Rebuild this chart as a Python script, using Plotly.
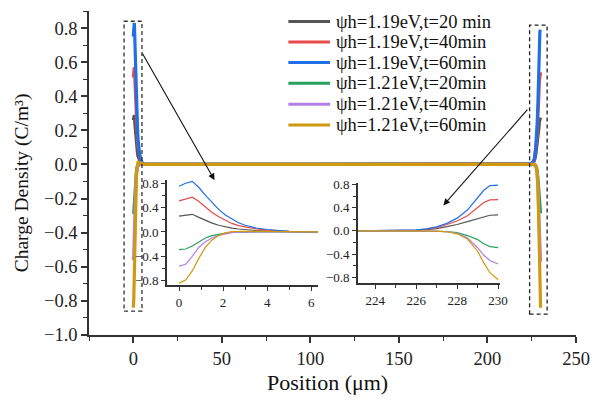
import plotly.graph_objects as go

# ---------------- data ----------------
names = ["ψh=1.19eV,t=20 min", "ψh=1.19eV,t=40min", "ψh=1.19eV,t=60min",
         "ψh=1.21eV,t=20min", "ψh=1.21eV,t=40min", "ψh=1.21eV,t=60min"]
colors = ["#555555", "#e84a4a", "#1f6fe8", "#2aa060", "#b27fe8", "#d09a10"]

# near the left electrode (µm)
x_left = [0, 0.3, 0.6, 0.9, 1.2, 1.5, 1.8, 2.1, 2.4, 2.7, 3.0, 3.5, 4.0, 4.5, 5.0, 5.5, 6.3]
y_left_119_20 = [0.26, 0.28, 0.29, 0.24, 0.19, 0.145, 0.11, 0.085, 0.064, 0.048, 0.037, 0.024, 0.015, 0.008, 0.004, 0.002, 0.0]
y_left_119_40 = [0.51, 0.545, 0.57, 0.50, 0.41, 0.32, 0.25, 0.19, 0.14, 0.105, 0.08, 0.05, 0.03, 0.016, 0.008, 0.004, 0.001]
y_left_119_60 = [0.75, 0.80, 0.83, 0.73, 0.60, 0.48, 0.37, 0.28, 0.21, 0.15, 0.11, 0.065, 0.04, 0.022, 0.01, 0.005, 0.002]
y_left_121_20 = [-0.29, -0.28, -0.23, -0.16, -0.10, -0.06, -0.035, -0.018, -0.009, -0.005, -0.003, -0.001, 0.0, 0.0, 0.0, 0.0, 0.0]
y_left_121_40 = [-0.56, -0.53, -0.40, -0.25, -0.16, -0.10, -0.055, -0.028, -0.012, -0.004, 0.0, 0.002, 0.002, 0.001, 0.0, 0.0, 0.0]
y_left_121_60 = [-0.84, -0.79, -0.64, -0.43, -0.25, -0.13, -0.06, -0.016, 0.005, 0.012, 0.012, 0.01, 0.007, 0.004, 0.002, 0.001, 0.0]

# near the right electrode (µm)
x_right = [223.15, 224, 225, 226, 226.5, 227, 227.5, 228, 228.5, 229, 229.3, 229.6, 230]
y_right_119_20 = [0.0, 0.001, 0.004, 0.01, 0.02, 0.04, 0.075, 0.11, 0.16, 0.21, 0.25, 0.27, 0.275]
y_right_119_40 = [0.0, 0.002, 0.006, 0.015, 0.03, 0.06, 0.11, 0.17, 0.26, 0.40, 0.49, 0.535, 0.54]
y_right_119_60 = [0.0, 0.003, 0.008, 0.02, 0.035, 0.07, 0.13, 0.22, 0.36, 0.58, 0.70, 0.78, 0.79]
y_right_121_20 = [0.0, 0.0, 0.0, 0.0, 0.0, -0.003, -0.01, -0.03, -0.08, -0.15, -0.22, -0.27, -0.287]
y_right_121_40 = [0.0, 0.0, 0.0, 0.0, 0.0, -0.005, -0.015, -0.04, -0.12, -0.29, -0.42, -0.51, -0.57]
y_right_121_60 = [0.0, 0.0, 0.0, 0.0, 0.0, -0.005, -0.015, -0.05, -0.14, -0.35, -0.55, -0.72, -0.84]

y_left = [y_left_119_20, y_left_119_40, y_left_119_60, y_left_121_20, y_left_121_40, y_left_121_60]
y_right = [y_right_119_20, y_right_119_40, y_right_119_60, y_right_121_20, y_right_121_40, y_right_121_60]

y_ticks_main = [-1.0, -0.8, -0.6, -0.4, -0.2, 0.0, 0.2, 0.4, 0.6, 0.8]
x_ticks_main = [0, 50, 100, 150, 200, 250]
inset_y_ticks = [-0.8, -0.4, 0.0, 0.4, 0.8]
inset1_x_ticks = [0, 2, 4, 6]
inset2_x_ticks = [224, 226, 228, 230]

x_title = "Position (μm)"
y_title = "Charge Density (C/m³)"

# ---------------- figure ----------------
FONT = "Liberation Serif, serif"
W, H = 595, 402
ML, MR, MT, MB = 89, 15, 5, 67
PW, PH = W - ML - MR, H - MT - MB


def px_to_paper(px, py):
    return (px - ML) / PW, (H - MB - py) / PH


fig = go.Figure()

for i in range(6):
    fig.add_trace(go.Scatter(
        x=x_left + x_right, y=y_left[i] + y_right[i], mode="lines",
        name=names[i], line=dict(color=colors[i], width=3.2),
        xaxis="x", yaxis="y", showlegend=False))

for i in range(6):
    fig.add_trace(go.Scatter(
        x=x_left, y=y_left[i], mode="lines", line=dict(color=colors[i], width=1.2),
        xaxis="x2", yaxis="y2", showlegend=False, hoverinfo="skip"))
    fig.add_trace(go.Scatter(
        x=x_right, y=y_right[i], mode="lines", line=dict(color=colors[i], width=1.2),
        xaxis="x3", yaxis="y3", showlegend=False, hoverinfo="skip"))

axis_common = dict(showline=True, linecolor="#333333", ticks="outside",
                   tickcolor="#333333", showgrid=False, zeroline=False)

fig.update_layout(
    width=W, height=H,
    margin=dict(l=ML, r=MR, t=MT, b=MB),
    paper_bgcolor="white", plot_bgcolor="rgba(0,0,0,0)",
    font=dict(family=FONT, color="#222222"),
    xaxis=dict(**axis_common, range=[-25, 250], tickvals=x_ticks_main,
               linewidth=1.5, tickwidth=1.5, ticklen=6,
               minor=dict(dtick=25, tick0=0, ticks="outside", ticklen=4, tickcolor="#333333", tickwidth=1.2),
               tickfont=dict(size=18.5, family=FONT, color="#222222")),
    yaxis=dict(**axis_common, range=[-1.0, 0.9], tickvals=y_ticks_main, tickformat=".1f",
               linewidth=1.5, tickwidth=1.5, ticklen=6,
               minor=dict(dtick=0.1, tick0=0, ticks="outside", ticklen=4, tickcolor="#333333", tickwidth=1.2),
               tickfont=dict(size=18.5, family=FONT, color="#222222")),
    xaxis2=dict(**axis_common, domain=[0.160, 0.470], anchor="y2", range=[-0.55, 6.3],
                tickvals=inset1_x_ticks, linewidth=2, tickwidth=1.2, ticklen=4,
                minor=dict(dtick=1, tick0=0, ticks="outside", ticklen=3, tickcolor="#333333"),
                tickfont=dict(size=13, family=FONT, color="#222222")),
    yaxis2=dict(**axis_common, domain=[0.1545, 0.4797], anchor="x2", range=[-0.87, 0.86],
                tickvals=inset_y_ticks, tickformat=".1f", linewidth=1.5, tickwidth=1.2, ticklen=4,
                minor=dict(dtick=0.2, tick0=0, ticks="outside", ticklen=3, tickcolor="#333333"),
                tickfont=dict(size=13, family=FONT, color="#222222")),
    xaxis3=dict(**axis_common, domain=[0.552, 0.843], anchor="y3", range=[223.15, 230.07],
                tickvals=inset2_x_ticks, linewidth=1.5, tickwidth=1.2, ticklen=4,
                minor=dict(dtick=1, tick0=224, ticks="outside", ticklen=3, tickcolor="#333333"),
                tickfont=dict(size=13, family=FONT, color="#222222")),
    yaxis3=dict(**axis_common, domain=[0.160, 0.470], anchor="x3", range=[-0.9, 0.83],
                tickvals=inset_y_ticks, tickformat=".1f", linewidth=1.5, tickwidth=1.2, ticklen=4,
                minor=dict(dtick=0.2, tick0=0, ticks="outside", ticklen=3, tickcolor="#333333"),
                tickfont=dict(size=13, family=FONT, color="#222222")),
)

# axis titles
tx, ty = px_to_paper(329, 383)
fig.add_annotation(x=tx, y=ty, xref="paper", yref="paper", text=x_title, showarrow=False,
                   xanchor="center", yanchor="middle", font=dict(size=22, family=FONT, color="#111111"))
tx, ty = px_to_paper(21, 180)
fig.add_annotation(x=tx, y=ty, xref="paper", yref="paper", text=y_title, showarrow=False,
                   textangle=-90, xanchor="center", yanchor="middle",
                   font=dict(size=19.5, family=FONT, color="#111111"))

# legend drawn by hand (line samples + labels)
legend_rows_px = [15.7, 36.7, 57.5, 78.5, 100.0, 121.0]
for i in range(6):
    xa, ya = px_to_paper(290, legend_rows_px[i])
    xb, _ = px_to_paper(332, legend_rows_px[i])
    fig.add_shape(type="line", xref="paper", yref="paper", x0=xa, x1=xb, y0=ya, y1=ya,
                  line=dict(color=colors[i], width=3))
    xt, _ = px_to_paper(336, legend_rows_px[i])
    fig.add_annotation(x=xt, y=ya, xref="paper", yref="paper", text=names[i], showarrow=False,
                       xanchor="left", yanchor="middle",
                       font=dict(size=18.5, family=FONT, color="#111111"))

# dashed zoom boxes
fig.add_shape(type="rect", xref="x", yref="y", x0=-5.2, x1=4.9, y0=-0.86, y1=0.84,
              line=dict(color="#333333", width=1.3, dash="4px,3px"))
fig.add_shape(type="rect", xref="x", yref="y", x0=223.8, x1=233.7, y0=-0.877, y1=0.817,
              line=dict(color="#222222", width=1.3, dash="4px,3px"))

# arrows
fig.add_annotation(x=45.9, y=-0.092, ax=4.7, ay=0.66, xref="x", yref="y", axref="x", ayref="y",
                   showarrow=True, arrowhead=2, arrowsize=1.2, arrowwidth=1.1, arrowcolor="#111111", text="")
fig.add_annotation(x=175.1, y=-0.24, ax=223.3, ay=0.33, xref="x", yref="y", axref="x", ayref="y",
                   showarrow=True, arrowhead=2, arrowsize=1.2, arrowwidth=1.1, arrowcolor="#111111", text="")

fig.write_html("out.html", config={"displayModeBar": False},
               post_script="document.body.style.margin='0';")
